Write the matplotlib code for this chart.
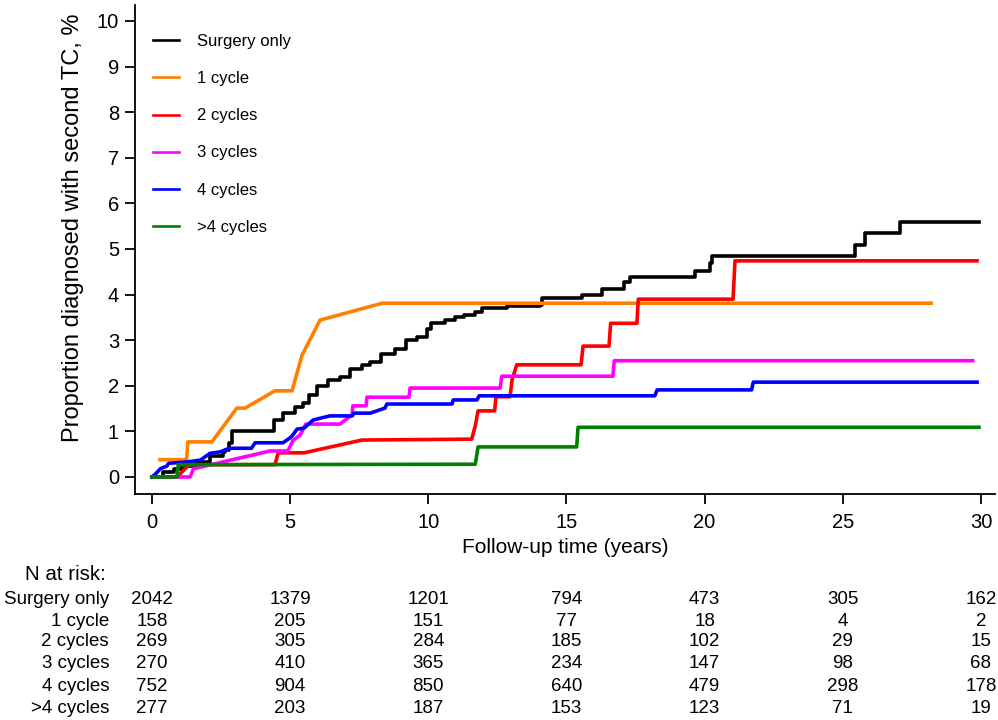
import matplotlib
matplotlib.use("Agg")
import matplotlib.pyplot as plt
import matplotlib.transforms as mtransforms

plt.rcParams['font.family'] = ['Liberation Sans', 'DejaVu Sans']

groups = ["Surgery only", "1 cycle", "2 cycles", "3 cycles", "4 cycles", ">4 cycles"]
colors = ["#000000", "#FF8000", "#FF0000", "#FF00FF", "#0000FF", "#008000"]

# Surgery only
t_surg = [0, 0.3, 0.4, 0.7, 0.8, 1.0, 1.1, 1.5, 1.6, 2.0, 2.1, 2.57, 2.65, 2.8, 2.9, 4.2, 4.42, 4.75, 5.17,
          5.47, 5.7, 5.97, 6.37, 6.8, 7.17, 7.6, 7.9, 8.3, 8.8, 9.2, 9.6, 9.95, 10.1, 10.6, 10.97, 11.3, 11.7,
          11.95, 12.85, 14.05, 14.1, 15.5, 15.56, 16.25, 16.3, 17.05, 17.1, 17.3, 19.6, 19.65, 20.2, 20.27,
          25.4, 25.44, 25.75, 25.8, 27.0, 27.07, 29.93]
y_surg = [0, 0, 0.1, 0.1, 0.18, 0.18, 0.25, 0.25, 0.33, 0.33, 0.45, 0.55, 0.6, 0.75, 1.0, 1.0, 1.25, 1.4, 1.53,
          1.62, 1.8, 2.0, 2.13, 2.2, 2.37, 2.46, 2.52, 2.7, 2.8, 3.0, 3.07, 3.25, 3.37, 3.44, 3.5, 3.55, 3.62,
          3.7, 3.75, 3.78, 3.92, 3.92, 4.0, 4.0, 4.13, 4.13, 4.28, 4.39, 4.39, 4.52, 4.7, 4.85,
          4.85, 5.09, 5.09, 5.35, 5.35, 5.6, 5.6]

# 1 cycle
t_c1 = [0.29, 1.25, 1.3, 2.17, 3.07, 3.37, 4.45, 5.07, 5.43, 6.08, 8.33, 28.2]
y_c1 = [0.38, 0.38, 0.77, 0.77, 1.51, 1.51, 1.89, 1.89, 2.67, 3.44, 3.81, 3.81]

# 2 cycles
t_c2 = [0, 0.9, 1.35, 4.45, 4.57, 5.5, 7.6, 11.57, 11.7, 11.8, 12.4, 12.45, 12.96, 13.03, 13.2, 15.53,
        15.6, 16.54, 16.6, 17.55, 17.6, 21.03, 21.1, 29.86]
y_c2 = [0, 0, 0.27, 0.27, 0.53, 0.53, 0.81, 0.83, 1.12, 1.45, 1.45, 1.76, 1.76, 2.13, 2.46, 2.46,
        2.87, 2.87, 3.37, 3.37, 3.9, 3.9, 4.74, 4.74]

# 3 cycles
t_c3 = [0, 1.38, 1.5, 4.27, 4.92, 5.1, 5.36, 5.57, 6.8, 7.24, 7.27, 7.75, 7.78, 9.3, 9.34, 12.6, 12.66,
        16.68, 16.73, 29.7]
y_c3 = [0, 0, 0.18, 0.57, 0.57, 0.8, 0.92, 1.16, 1.16, 1.36, 1.56, 1.56, 1.75, 1.75, 1.95, 1.95, 2.21,
        2.21, 2.55, 2.55]

# 4 cycles
t_c4 = [0, 0.15, 0.3, 0.54, 0.6, 1.26, 1.75, 2.1, 2.46, 2.8, 3.6, 3.73, 4.74, 5.0, 5.07, 5.25, 5.5, 5.83,
        6.44, 7.25, 7.3, 7.9, 8.43, 8.5, 10.86, 10.9, 11.76, 11.84, 18.2, 18.28, 21.7, 21.76, 29.86]
y_c4 = [0, 0.08, 0.18, 0.24, 0.3, 0.33, 0.37, 0.52, 0.55, 0.63, 0.63, 0.75, 0.75, 0.86, 0.9, 1.05, 1.07,
        1.25, 1.34, 1.34, 1.4, 1.4, 1.51, 1.6, 1.6, 1.69, 1.69, 1.78, 1.78, 1.91, 1.91, 2.08, 2.08]

# >4 cycles
t_c5 = [0, 0.9, 0.95, 11.7, 11.8, 15.37, 15.42, 29.93]
y_c5 = [0, 0, 0.27, 0.28, 0.66, 0.66, 1.09, 1.09]

times = [t_surg, t_c1, t_c2, t_c3, t_c4, t_c5]
values = [y_surg, y_c1, y_c2, y_c3, y_c4, y_c5]
draw_styles = ["steps-post", "default", "default", "default", "default", "default"]

# Number at risk
risk_times = [0, 5, 10, 15, 20, 25, 30]
risk_surg = [2042, 1379, 1201, 794, 473, 305, 162]
risk_c1 = [158, 205, 151, 77, 18, 4, 2]
risk_c2 = [269, 305, 284, 185, 102, 29, 15]
risk_c3 = [270, 410, 365, 234, 147, 98, 68]
risk_c4 = [752, 904, 850, 640, 479, 298, 178]
risk_c5 = [277, 203, 187, 153, 123, 71, 19]
risk = [risk_surg, risk_c1, risk_c2, risk_c3, risk_c4, risk_c5]

W, H = 998, 720
fig = plt.figure(figsize=(W / 100, H / 100), dpi=100)
ax = fig.add_axes([135 / W, 1 - 494 / H, 860 / W, 489 / H])

for t, y, c, g, ds in zip(times, values, colors, groups, draw_styles):
    ax.plot(t, y, color=c, lw=2.6, label=g, drawstyle=ds)

ax.set_xlim(-0.615, 30.51)
ax.set_ylim(-0.373, 10.35)
ax.set_xticks(range(0, 31, 5))
ax.set_yticks(range(0, 11))
for s in ['top', 'right']:
    ax.spines[s].set_visible(False)
for s in ['left', 'bottom']:
    ax.spines[s].set_linewidth(1.3)
ax.tick_params(axis='both', length=7.5, width=1.3, labelsize=14.5)
ax.tick_params(axis='x', pad=6.5)
ax.tick_params(axis='y', pad=4)
ax.set_xlabel("Follow-up time (years)", fontsize=15, labelpad=4.3)
ax.set_ylabel("Proportion diagnosed with second TC, %", fontsize=17)
ax.yaxis.set_label_coords((84 - 135) / 860, (494 - 227.5) / 489)

leg = ax.legend(loc='upper left', bbox_to_anchor=(153 / W, 1 - 34 / H), bbox_transform=fig.transFigure,
                frameon=False, fontsize=12, handlelength=1.55, handletextpad=1.1, labelspacing=1.33,
                borderpad=0, borderaxespad=0)
for line in leg.get_lines():
    line.set_linewidth(1.9)

# risk table
fs = 13.5
trans = mtransforms.blended_transform_factory(ax.transData, fig.transFigure)
fig.text(25 / W, 1 - 580 / H, "N at risk:", ha='left', va='baseline', fontsize=14.8)
row_base = [603.5, 625.5, 646.5, 668.5, 691, 713]
for g, r, yy in zip(groups, risk, row_base):
    fig.text(109 / W, 1 - yy / H, g, ha='right', va='baseline', fontsize=fs)
    for tx, n in zip(risk_times, r):
        ax.text(tx, 1 - yy / H, str(n), transform=trans, ha='center', va='baseline', fontsize=fs,
                clip_on=False)

fig.savefig("out.png", dpi=100)
